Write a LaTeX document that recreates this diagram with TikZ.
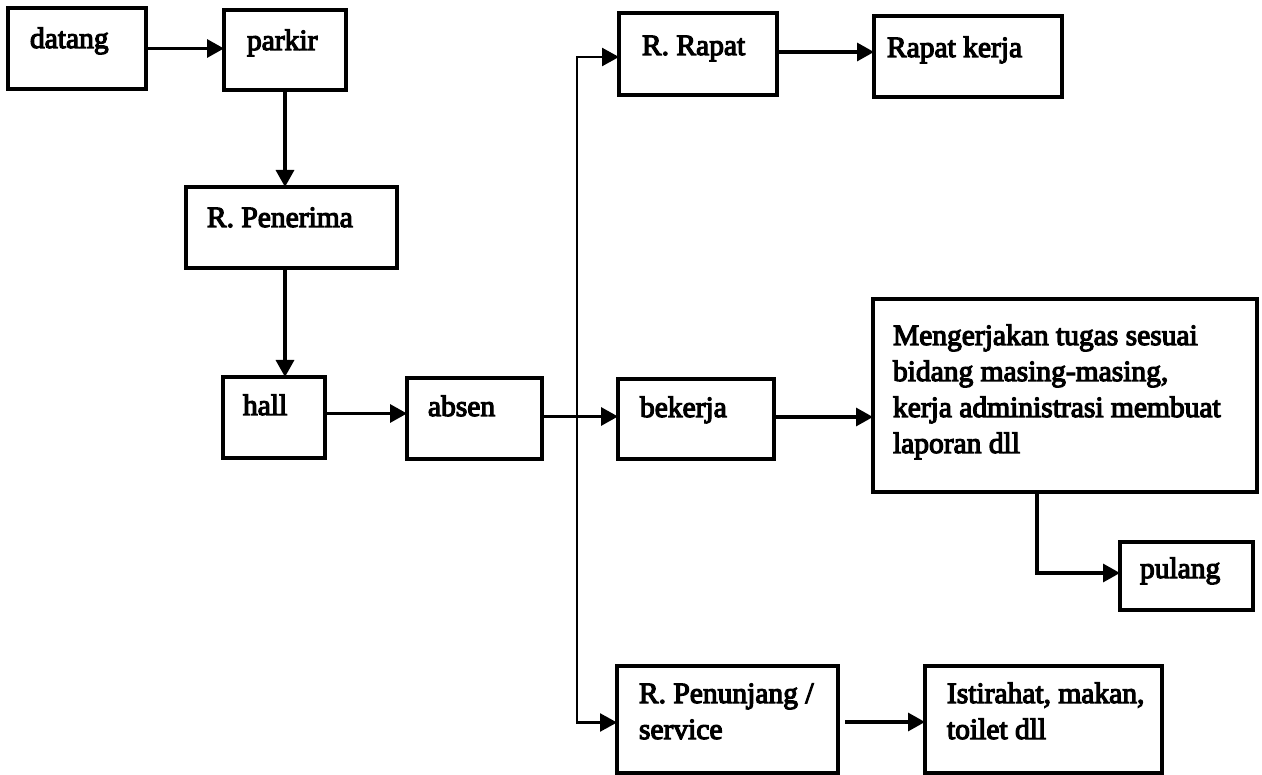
\documentclass[tikz,border=0pt]{standalone}
\usepackage{fontspec}
\setmainfont{Liberation Serif}[UprightFeatures={FakeBold=4}]
\usetikzlibrary{arrows.meta}

% multi-line box text, baseline on the first line
\newcommand\boxlines[1]{\begin{tabular}[t]{@{}l@{}}#1\end{tabular}}

\tikzset{
  x=1pt, y=-1pt,
  box/.style={draw, line width=3.5pt, anchor=north west, inner sep=0pt, outer sep=0pt},
  txt/.style={anchor=base west, inner sep=0pt, outer sep=0pt,
              font=\fontsize{29.5}{36}\selectfont},
  conn/.style={line width=3.2pt, -{Triangle[length=17pt,width=18pt]}},
  trunkline/.style={line width=2.5pt, {Triangle[length=17pt,width=18pt]}-{Triangle[length=17pt,width=18pt]}},
}

\begin{document}
\begin{tikzpicture}
\useasboundingbox (0,0) rectangle (1262,775);

% boxes and their texts
\node[box, minimum width=138pt, minimum height=81pt] (datang) at (8,8) {};
\node[txt] (datang-t) at ([shift={(22,40)}]datang.north west) {datang};

\node[box, minimum width=122pt, minimum height=80pt] (parkir) at (224,10) {};
\node[txt] (parkir-t) at ([shift={(23,40)}]parkir.north west) {parkir};

\node[box, minimum width=211pt, minimum height=81pt] (penerima) at (186,187) {};
\node[txt] (penerima-t) at ([shift={(21,40)}]penerima.north west) {R. Penerima};

\node[box, minimum width=102pt, minimum height=81pt] (hall) at (223,377) {};
\node[txt] (hall-t) at ([shift={(20,38)}]hall.north west) {hall};

\node[box, minimum width=135pt, minimum height=81pt] (absen) at (407,378) {};
\node[txt] (absen-t) at ([shift={(21,38)}]absen.north west) {absen};

\node[box, minimum width=158pt, minimum height=82pt] (rapat) at (619,13) {};
\node[txt] (rapat-t) at ([shift={(23,42)}]rapat.north west) {R. Rapat};

\node[box, minimum width=188pt, minimum height=81pt] (rapatkerja) at (874,16) {};
\node[txt] (rapatkerja-t) at ([shift={(13,41)}]rapatkerja.north west) {Rapat kerja};

\node[box, minimum width=156pt, minimum height=80pt] (bekerja) at (618,379) {};
\node[txt] (bekerja-t) at ([shift={(22,38)}]bekerja.north west) {bekerja};

\node[box, minimum width=384pt, minimum height=193pt] (tugas) at (873,299) {};
\node[txt] (tugas-t) at ([shift={(20,46)}]tugas.north west)
  {\boxlines{Mengerjakan tugas sesuai\\bidang masing-masing,\\kerja administrasi membuat\\laporan dll}};

\node[box, minimum width=133pt, minimum height=68pt] (pulang) at (1120,542) {};
\node[txt] (pulang-t) at ([shift={(20,36)}]pulang.north west) {pulang};

\node[box, minimum width=221pt, minimum height=107pt] (penunjang) at (617,666) {};
\node[txt] (penunjang-t) at ([shift={(22,37)}]penunjang.north west)
  {\boxlines{R. Penunjang /\\service}};

\node[box, minimum width=237pt, minimum height=107pt] (istirahat) at (925,666) {};
\node[txt] (istirahat-t) at ([shift={(22,37)}]istirahat.north west)
  {\boxlines{Istirahat, makan,\\toilet dll}};

% connectors
\coordinate (trunk) at (577,0);

\draw[conn] (datang.east) -- (datang.east -| parkir.west);
\draw[conn] (parkir.south) -- (parkir.south |- penerima.north);
\draw[conn] (penerima.south -| parkir.south) -- (hall.north -| parkir.south);
\draw[conn] ([yshift=4pt]hall.east) -- ([yshift=4pt]hall.east -| absen.west);
\draw[conn] ([yshift=2pt]absen.east) -- ([yshift=2pt]absen.east -| bekerja.west);
\draw[trunkline] ([yshift=-3pt]penunjang.west) -- ([yshift=-3pt]penunjang.west -| trunk)
  -- ([yshift=-3pt]rapat.west -| trunk) -- ([yshift=-3pt]rapat.west);
\draw[conn] ([yshift=2pt]rapat.east) -- ([yshift=2pt]rapat.east -| rapatkerja.west);
\draw[conn] ([yshift=2pt]bekerja.east) -- ([yshift=2pt]bekerja.east -| tugas.west);
\draw[conn] ([xshift=-28pt]tugas.south) |- ([yshift=3pt]pulang.west);
\draw[conn] ([xshift=7pt,yshift=-2.5pt]penunjang.east) -- ([yshift=-2.5pt]penunjang.east -| istirahat.west);
\end{tikzpicture}
\end{document}
